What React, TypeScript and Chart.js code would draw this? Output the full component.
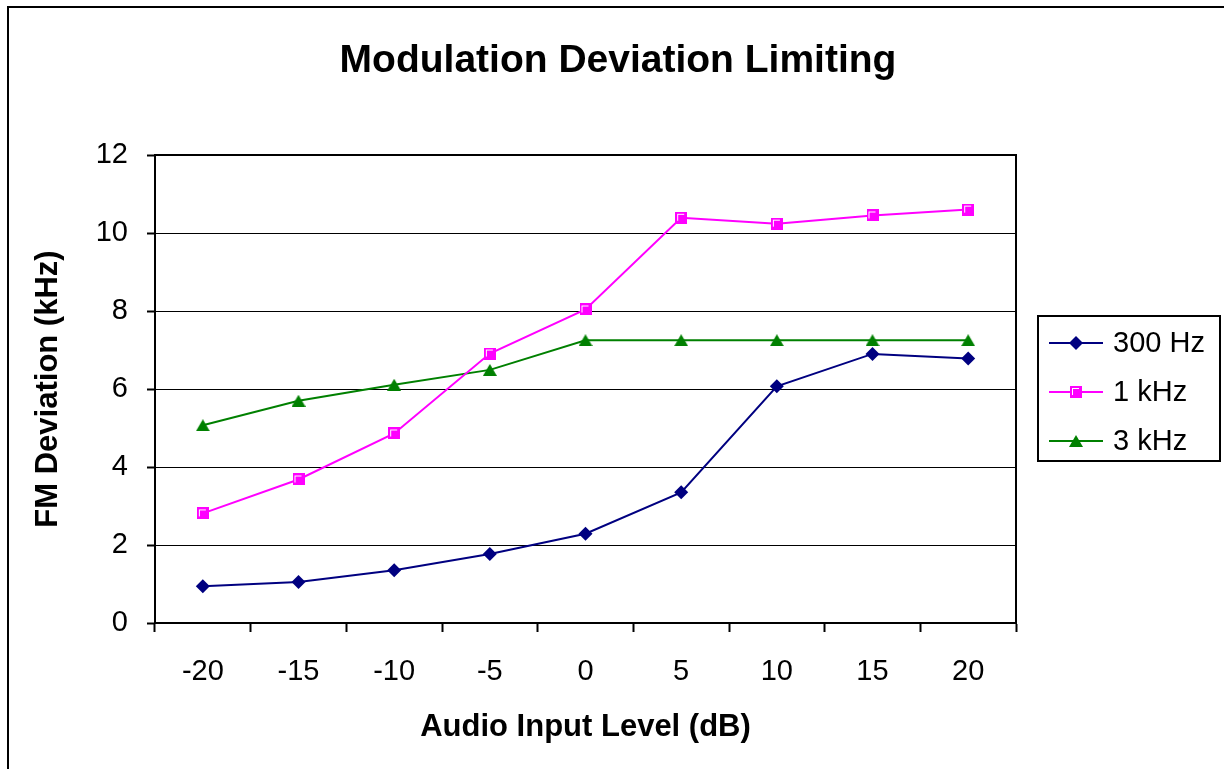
import React, { useEffect, useRef } from 'react';
import { Chart, registerables } from 'chart.js';

Chart.register(...registerables);

const categories = ['-20', '-15', '-10', '-5', '0', '5', '10', '15', '20'];
const seriesNames = ['300 Hz', '1 kHz', '3 kHz'];
const hz300 = [0.94, 1.05, 1.35, 1.77, 2.29, 3.35, 6.07, 6.9, 6.78];
const khz1 = [2.81, 3.68, 4.86, 6.91, 8.04, 10.39, 10.24, 10.45, 10.6];
const khz3 = [5.07, 5.7, 6.11, 6.49, 7.25, 7.25, 7.25, 7.25, 7.25];
const seriesColors = ['#000080', '#FF00FF', '#008000'];
const chartTitle = 'Modulation Deviation Limiting';
const xTitle = 'Audio Input Level (dB)';
const yTitle = 'FM Deviation (kHz)';

const FONT = "'Liberation Sans', Arial, sans-serif";

function makeSquare(color: string): HTMLCanvasElement {
  const c = document.createElement('canvas');
  c.width = 12;
  c.height = 12;
  const g = c.getContext('2d')!;
  g.fillStyle = color;
  g.fillRect(0, 0, 12, 12);
  g.fillStyle = '#FFFFFF';
  g.fillRect(2, 2, 7, 1);
  g.fillRect(2, 2, 1, 7);
  return c;
}

function makeTriangle(color: string): HTMLCanvasElement {
  const c = document.createElement('canvas');
  c.width = 14;
  c.height = 12;
  const g = c.getContext('2d')!;
  g.fillStyle = color;
  g.beginPath();
  g.moveTo(7, 0);
  g.lineTo(14, 12);
  g.lineTo(0, 12);
  g.closePath();
  g.fill();
  return c;
}

function drawDiamond(ctx: CanvasRenderingContext2D, x: number, y: number, r: number, color: string) {
  ctx.save();
  ctx.fillStyle = color;
  ctx.beginPath();
  ctx.moveTo(x - r, y);
  ctx.lineTo(x, y - r);
  ctx.lineTo(x + r, y);
  ctx.lineTo(x, y + r);
  ctx.closePath();
  ctx.fill();
  ctx.restore();
}

export default function App() {
  const ref = useRef<HTMLCanvasElement | null>(null);

  useEffect(() => {
    if (!ref.current) return;
    const square = makeSquare(seriesColors[1]);
    const tri = makeTriangle(seriesColors[2]);

    const framePlugin = {
      id: 'frame',
      beforeDraw(chart: any) {
        const ctx = chart.ctx as CanvasRenderingContext2D;
        ctx.save();
        ctx.fillStyle = '#FFFFFF';
        ctx.fillRect(0, 0, chart.width, chart.height);
        ctx.strokeStyle = '#000000';
        ctx.lineWidth = 2;
        ctx.beginPath();
        ctx.moveTo(8, chart.height);
        ctx.lineTo(8, 7);
        ctx.lineTo(chart.width, 7);
        ctx.stroke();
        ctx.fillStyle = '#000000';
        ctx.font = `bold 39px ${FONT}`;
        ctx.textAlign = 'center';
        ctx.textBaseline = 'middle';
        ctx.fillText(chartTitle, 618, 61);
        ctx.restore();
      },
      beforeDatasetsDraw(chart: any) {
        const ctx = chart.ctx as CanvasRenderingContext2D;
        const a = chart.chartArea;
        ctx.save();
        ctx.strokeStyle = '#000000';
        ctx.lineWidth = 2;
        ctx.strokeRect(a.left, a.top, a.right - a.left, a.bottom - a.top);
        ctx.restore();
      },
      afterDraw(chart: any) {
        const ctx = chart.ctx as CanvasRenderingContext2D;
        ctx.save();
        ctx.strokeStyle = '#000000';
        ctx.lineWidth = 2;
        ctx.strokeRect(1038, 316, 182, 145);
        const rows = [343, 392, 441];
        chart.data.datasets.forEach((ds: any, i: number) => {
          const y = rows[i];
          ctx.strokeStyle = ds.borderColor;
          ctx.lineWidth = 2;
          ctx.beginPath();
          ctx.moveTo(1049, y);
          ctx.lineTo(1103, y);
          ctx.stroke();
          if (i === 0) drawDiamond(ctx, 1076, y, 7, ds.borderColor);
          if (i === 1) ctx.drawImage(square, 1070, y - 6);
          if (i === 2) ctx.drawImage(tri, 1069, y - 6);
          ctx.fillStyle = '#000000';
          ctx.font = `29px ${FONT}`;
          ctx.textAlign = 'left';
          ctx.textBaseline = 'middle';
          ctx.fillText(ds.label, 1113, y + 1);
        });
        ctx.restore();
      },
    };

    const chart = new Chart(ref.current, {
      type: 'line',
      data: {
        labels: categories,
        datasets: [
          {
            label: seriesNames[0],
            data: hz300,
            borderColor: seriesColors[0],
            backgroundColor: seriesColors[0],
            borderWidth: 2,
            pointStyle: 'rectRot',
            pointRadius: 7,
            pointBorderWidth: 0,
            tension: 0,
          },
          {
            label: seriesNames[1],
            data: khz1,
            borderColor: seriesColors[1],
            backgroundColor: seriesColors[1],
            borderWidth: 2,
            pointStyle: square as any,
            pointRadius: 6,
            tension: 0,
          },
          {
            label: seriesNames[2],
            data: khz3,
            borderColor: seriesColors[2],
            backgroundColor: seriesColors[2],
            borderWidth: 2,
            pointStyle: tri as any,
            pointRadius: 7,
            tension: 0,
          },
        ],
      },
      options: {
        responsive: false,
        animation: false,
        events: [],
        layout: { padding: { left: 0, right: 208, top: 155, bottom: 0 } },
        plugins: {
          legend: { display: false },
          tooltip: { enabled: false },
          title: { display: false },
        },
        scales: {
          x: {
            type: 'category',
            offset: true,
            afterFit: (s: any) => {
              s.height = 146;
            },
            grid: {
              offset: true,
              drawOnChartArea: false,
              drawTicks: true,
              tickLength: 9,
              tickWidth: 2,
              tickColor: '#000000',
              color: '#000000',
            },
            border: { display: true, color: '#000000', width: 2 },
            ticks: {
              color: '#000000',
              font: { family: FONT, size: 29 },
              padding: 23,
              maxRotation: 0,
              autoSkip: false,
            },
            title: {
              display: true,
              text: xTitle,
              color: '#000000',
              font: { family: FONT, size: 31, weight: 'bold' },
              padding: { top: 0, bottom: 23 },
            },
          },
          y: {
            min: 0,
            max: 12,
            afterFit: (s: any) => {
              s.width = 155;
            },
            grid: {
              color: '#000000',
              lineWidth: 1,
              drawTicks: true,
              tickLength: 8,
              tickWidth: 2,
              tickColor: '#000000',
            },
            border: { display: true, color: '#000000', width: 2 },
            ticks: {
              stepSize: 2,
              color: '#000000',
              font: { family: FONT, size: 29 },
              padding: 19,
            },
            title: {
              display: true,
              text: yTitle,
              color: '#000000',
              font: { family: FONT, size: 31, weight: 'bold' },
              padding: { top: 29.5, bottom: 0 },
            },
          },
        },
      },
      plugins: [framePlugin],
    });

    return () => {
      chart.destroy();
    };
  }, []);

  return (
    <div style={{ position: 'absolute', left: 0, top: 0, width: 1224, height: 769, background: '#FFFFFF' }}>
      <canvas ref={ref} width={1224} height={769} style={{ display: 'block' }} />
    </div>
  );
}
